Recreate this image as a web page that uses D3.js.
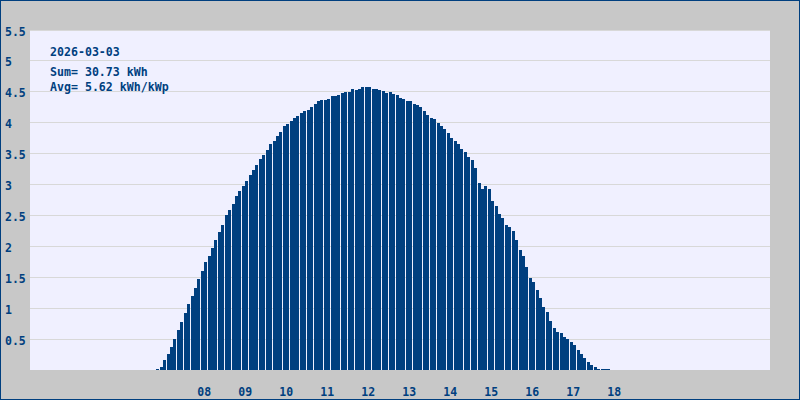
<!DOCTYPE html>
<html><head><meta charset="utf-8">
<script src="https://cdn.jsdelivr.net/npm/d3@7"></script>
<style>html,body{margin:0;padding:0;background:#c8c8c8;} svg{display:block}</style>
</head><body><svg id="c" width="800" height="400"></svg>
<script>
// ---- data ----
const dateLabel = "2026-03-03";
const infoLines = ["Sum= 30.73 kWh", "Avg= 5.62 kWh/kWp"];
const firstSlot = "06:50";      // first 5-minute slot
const slotMinutes = 5;
const power = [
  0.02,0.05,0.16,0.26,0.37,0.50,0.65,0.77,0.92,1.06,
  1.19,1.32,1.47,1.60,1.74,1.85,1.98,2.11,2.23,2.35,
  2.50,2.58,2.69,2.81,2.89,2.97,3.05,3.16,3.24,3.31,
  3.42,3.48,3.56,3.65,3.71,3.79,3.85,3.94,3.98,4.03,
  4.07,4.11,4.16,4.19,4.21,4.26,4.31,4.35,4.37,4.37,
  4.39,4.44,4.44,4.45,4.48,4.50,4.50,4.55,4.53,4.55,
  4.58,4.57,4.58,4.55,4.55,4.53,4.52,4.48,4.50,4.47,
  4.45,4.40,4.39,4.35,4.35,4.31,4.29,4.26,4.19,4.13,
  4.08,4.06,4.00,3.95,3.89,3.84,3.76,3.71,3.65,3.58,
  3.53,3.45,3.39,3.27,3.02,2.92,2.97,2.92,2.73,2.65,
  2.53,2.45,2.35,2.31,2.24,2.11,1.94,1.85,1.66,1.48,
  1.42,1.30,1.17,1.02,0.94,0.79,0.68,0.61,0.60,0.53,
  0.50,0.45,0.40,0.32,0.26,0.19,0.13,0.08,0.05,0.02,
  0.02,0.02,0.02
];
const hourLabels = ["08","09","10","11","12","13","14","15","16","17","18"];
const yTickValues = [0.5,1,1.5,2,2.5,3,3.5,4,4.5,5,5.5];
const xDomainMinutes = [225, 1308];   // 03:45 .. 21:48
const yDomain = [0, 5.5];

// ---- layout / style ----
const W = 800, H = 400;
const plot = {left: 30, top: 30, right: 770, bottom: 370};
const blue = "#003f7f";
const font = "'DejaVu Sans Mono', monospace";

const svg = d3.select("#c");
const toMin = s => { const [h,m] = s.split(":").map(Number); return h*60+m; };
const start = toMin(firstSlot);
const bars = power.map((v,i) => ({t: start + i*slotMinutes, v}));

const x = d3.scaleLinear().domain(xDomainMinutes).range([plot.left, plot.right]);
const y = d3.scaleLinear().domain(yDomain).range([369.9, 30]);

svg.append("rect").attr("x",0).attr("y",0).attr("width",W).attr("height",H).attr("fill","#c8c8c8");
svg.append("rect").attr("x",plot.left).attr("y",plot.top)
  .attr("width",plot.right-plot.left).attr("height",plot.bottom-plot.top).attr("fill","#f0f0ff");

// grid
svg.append("g").selectAll("line").data(yTickValues).join("line")
  .attr("x1",plot.left).attr("x2",plot.right)
  .attr("y1",d=>Math.floor(y(d))+0.5).attr("y2",d=>Math.floor(y(d))+0.5)
  .attr("stroke","#d8d8d8").attr("stroke-width",1);

// bars
const step = x(slotMinutes) - x(0);
svg.append("g").attr("shape-rendering","crispEdges").selectAll("rect").data(bars).join("rect")
  .attr("x",d=>x(d.t)).attr("width",step-0.45)
  .attr("y",d=>y(d.v)).attr("height",d=>y(0)-y(d.v)+0.3)
  .attr("fill",blue);

// y labels
svg.append("g").selectAll("text").data(yTickValues).join("text")
  .attr("x",5).attr("y",d=>Math.floor(y(d))+6)
  .attr("font-family",font).attr("font-weight","bold").attr("font-size","11.5px")
  .attr("fill",blue).text(d=>String(d));

// x labels
svg.append("g").selectAll("text").data(hourLabels).join("text")
  .attr("x",d=>x(+d*60)).attr("y",396).attr("text-anchor","middle")
  .attr("font-family",font).attr("font-weight","bold").attr("font-size","11.5px")
  .attr("fill",blue).text(d=>d);

// info text
const info = [dateLabel, ...infoLines];
const infoY = [56, 76, 90.5];
svg.append("g").selectAll("text").data(info).join("text")
  .attr("x",50).attr("y",(d,i)=>infoY[i])
  .attr("font-family",font).attr("font-size","11.6px").attr("font-weight","bold")
  .attr("fill",blue).text(d=>d);

// outer border
svg.append("rect").attr("x",0.5).attr("y",0.5).attr("width",W-1).attr("height",H-1)
  .attr("fill","none").attr("stroke",blue).attr("stroke-width",1);
</script>
</body></html>
